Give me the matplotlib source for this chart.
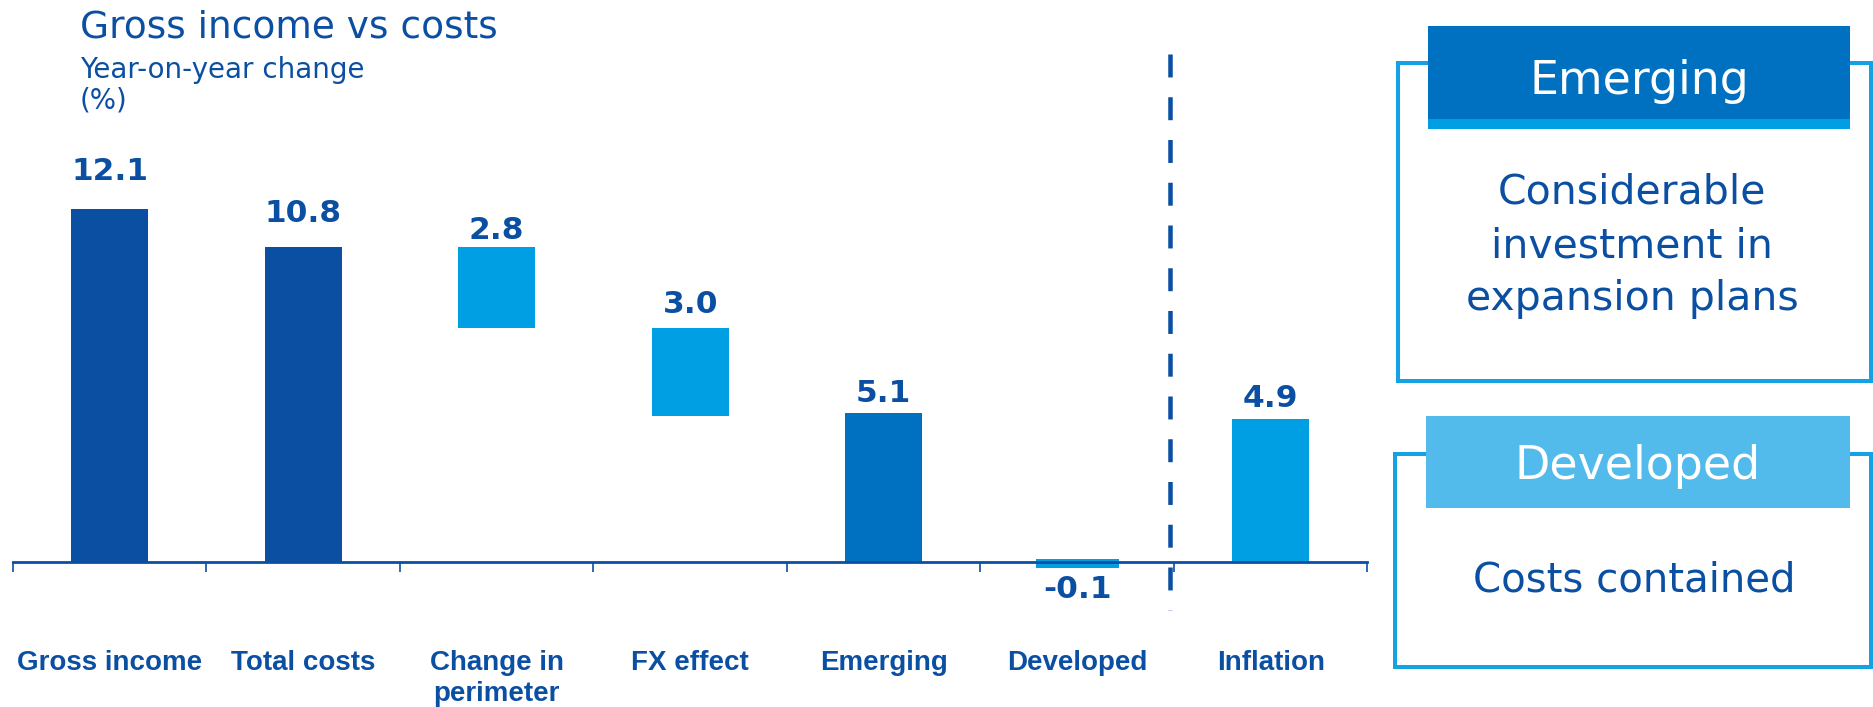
import matplotlib
matplotlib.use("Agg")
import matplotlib.pyplot as plt
from matplotlib import transforms
from matplotlib.patches import Rectangle

# ---- data ----
categories = ["Gross income", "Total costs", "Change in\nperimeter", "FX effect",
              "Emerging", "Developed", "Inflation"]
values = [12.1, 10.8, 2.8, 3.0, 5.1, -0.1, 4.9]
bar_kind = ["total", "total", "step", "step", "total", "total", "total"]
value_labels = ["12.1", "10.8", "2.8", "3.0", "5.1", "-0.1", "4.9"]

emerging_title = "Emerging"
emerging_body = ["Considerable", "investment in", "expansion plans"]
developed_title = "Developed"
developed_body = ["Costs contained"]

# ---- style ----
NAVY = "#0b4fa3"
MID = "#0070c0"
LIGHT = "#009fe3"
PALE = "#52bbeb"
bar_colors = [NAVY, NAVY, LIGHT, LIGHT, MID, LIGHT, LIGHT]
bar_edge_px = [0, 0, 0, 0, 0, 6.0, 0]
label_gap_px = [29, 25, 8, 15, 11, 10, 12]

plt.rcParams["font.family"] = ["DejaVu Sans"]

W, H = 1874, 707
fig = plt.figure(figsize=(W / 100, H / 100), dpi=100)
PT = 72 / 100  # points per pixel


def fx(x):
    return x / W


def fy(y):
    return 1 - y / H


# ---- axes geometry ----
PX_PER_UNIT = 29.19
BASE_Y = 562.0
AX_L, AX_R = 13.0, 1367.5
Y_LO, Y_HI = -2.0, 17.6
ax_bottom_px = BASE_Y - Y_LO * PX_PER_UNIT
ax_top_px = BASE_Y - Y_HI * PX_PER_UNIT
ax = fig.add_axes([fx(AX_L), fy(ax_bottom_px), (AX_R - AX_L) / W,
                   (ax_bottom_px - ax_top_px) / H])
ax.set_xlim(-0.5, len(categories) - 0.5)
ax.set_ylim(Y_LO, Y_HI)
ax.patch.set_alpha(0)

# waterfall layout: totals start at zero, steps hang down from the running level
bottoms, heights = [], []
running = 0.0
for v, k in zip(values, bar_kind):
    if k == "total":
        bottoms.append(0.0)
        heights.append(v)
        running = v
    else:
        running -= v
        bottoms.append(running)
        heights.append(v)

xs = list(range(len(categories)))
ax.bar(xs, heights, bottom=bottoms, width=0.40, color=bar_colors,
       edgecolor=bar_colors, linewidth=[p * PT for p in bar_edge_px], zorder=2)

for i, (b, h, lab, gap) in enumerate(zip(bottoms, heights, value_labels, label_gap_px)):
    if h >= 0:
        ax.annotate(lab, xy=(i, b + h), xytext=(0, gap * PT), textcoords="offset points",
                    ha="center", va="baseline", fontsize=22.5, fontweight="bold",
                    color=NAVY)
    else:
        ax.annotate(lab, xy=(i, b + h), xytext=(0, -gap * PT), textcoords="offset points",
                    ha="center", va="top", fontsize=22.5, fontweight="bold",
                    color=NAVY)

# axis line at zero with boundary ticks
for s in ["top", "right", "left"]:
    ax.spines[s].set_visible(False)
ax.spines["bottom"].set_position(("data", 0))
ax.spines["bottom"].set_color(NAVY)
ax.spines["bottom"].set_linewidth(2.0)
ax.spines["bottom"].set_zorder(3)
ax.set_yticks([])
ax.set_xticks([i - 0.5 for i in range(len(categories) + 1)])
ax.set_xticklabels([])
ax.tick_params(axis="x", direction="out", length=7, width=1.2, color=NAVY)

# category labels, one line at a time so every first line shares a baseline
blend = transforms.blended_transform_factory(ax.transData, fig.transFigure)
cat_font = ["Liberation Sans", "DejaVu Sans"]
for i, c in enumerate(categories):
    for j, line in enumerate(c.split("\n")):
        fig.text(i, fy(670 + 31 * j), line, transform=blend, ha="center",
                 va="baseline", fontsize=20, fontweight="bold", family=cat_font,
                 color=NAVY)

# divider between drivers and inflation
ax.plot([5.48, 5.48], [(BASE_Y - 54) / PX_PER_UNIT, (BASE_Y - 610) / PX_PER_UNIT],
        color=NAVY, lw=4.5 * PT, dashes=(5.1, 4.4), clip_on=False, zorder=4,
        solid_capstyle="butt", dash_capstyle="butt")

# titles
fig.text(fx(80), fy(37), "Gross income vs costs", fontsize=27, color=NAVY,
         va="baseline", ha="left")
fig.text(fx(80), fy(78), "Year-on-year change", fontsize=20, color=NAVY,
         va="baseline", ha="left")
fig.text(fx(80), fy(108), "(%)", fontsize=20, color=NAVY, va="baseline", ha="left")


# ---- right-hand panels ----
def rect_px(x0, y0, x1, y1, **kw):
    fig.add_artist(Rectangle((fx(x0), fy(y1)), (x1 - x0) / W, (y1 - y0) / H,
                             transform=fig.transFigure, **kw))


OUTLINE = "#13a2e3"
rect_px(1398, 63, 1871, 381, facecolor="white", edgecolor=OUTLINE, linewidth=4 * PT)
rect_px(1428, 26, 1850, 129, facecolor=MID, edgecolor="none")
rect_px(1428, 119, 1850, 129, facecolor=LIGHT, edgecolor="none")
fig.text(fx(1639), fy(94), emerging_title, fontsize=33, color="white",
         ha="center", va="baseline")
for line, yb in zip(emerging_body, [203, 257, 310]):
    fig.text(fx(1632), fy(yb), line, fontsize=29.5, color=NAVY,
             ha="center", va="baseline")

rect_px(1395, 454, 1871, 667, facecolor="white", edgecolor=OUTLINE, linewidth=4 * PT)
rect_px(1426, 416, 1850, 508, facecolor=PALE, edgecolor="none")
fig.text(fx(1638), fy(479), developed_title, fontsize=33, color="white",
         ha="center", va="baseline")
for line, yb in zip(developed_body, [592]):
    fig.text(fx(1634), fy(yb), line, fontsize=29, color=NAVY,
             ha="center", va="baseline")

fig.savefig("out.png", dpi=100, facecolor="white")
